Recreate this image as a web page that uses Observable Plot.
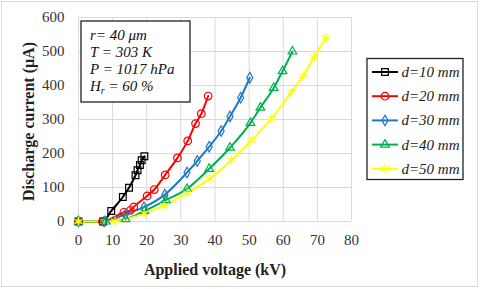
<!DOCTYPE html>
<html><head><meta charset="utf-8">
<script src="https://cdn.jsdelivr.net/npm/d3@7"></script>
<script src="https://cdn.jsdelivr.net/npm/@observablehq/plot@0.6"></script>
<style>
html,body{margin:0;padding:0;background:#fff;}
#chart{position:relative;width:480px;height:289px;}
</style></head>
<body><div id="chart"></div>
<script>
const xTicks = [0,10,20,30,40,50,60,70,80];
const yTicks = [0,100,200,300,400,500,600];
const seriesNames = ["d=10 mm","d=20 mm","d=30 mm","d=40 mm","d=50 mm"];
const seriesColors = ["#000000","#ff0000","#1f78c8","#00b050","#ffff00"];
const seriesSymbols = ["square","circle","diamond","triangle","asterisk"];
const x10 = [0,7.2,9.6,13,14.8,16.7,17.3,18,18.5,19.3];
const y10 = [0,0,31,72,99,136,151,166,180,192];
const x20 = [0,7,13.3,15.2,16.2,20.1,22.2,25.4,29,32,34.3,36,38];
const y20 = [0,0,27,33,43,75,94,137,187,237,288,317,369];
const x30 = [0,7.5,13.8,19.2,25.3,31.8,34.8,38.3,41.8,44.4,47.5,50.2];
const y30 = [0,0,22,42,79,144,178,220,266,309,364,423];
const x40 = [0,8,13.8,19.3,25.6,31.8,38.3,44.4,50.4,53.3,57.2,59.8,62.7];
const y40 = [0,0,7,31,63,96,155,217,290,335,393,442,500];
const x50 = [0,10.7,19.2,25,31.9,38.5,44.8,50.6,56.6,62.4,65.8,69,72.5];
const y50 = [0,1,24,46,84,126,180,238,303,381,428,483,540];
const infoLines = ["r= 40 μm","T = 303 K","P = 1017 hPa"];

const xs = [x10,x20,x30,x40,x50], ys = [y10,y20,y30,y40,y50];
const data = [];
xs.forEach((arr,i)=>arr.forEach((v,j)=>data.push({s:seriesNames[i],x:v,y:ys[i][j]})));

const font = "'Liberation Serif','Times New Roman',serif";
const symR = [3.8,3.8,3.2,3.2,4.3];
const marks = [
  Plot.gridX(xTicks,{stroke:"#d9d9d9",strokeOpacity:1}),
  Plot.gridY(yTicks,{stroke:"#d9d9d9",strokeOpacity:1}),
  Plot.axisX(xTicks,{tickSize:0,tickPadding:13,label:null,fontSize:15,fill:"#333"}),
  Plot.axisY(yTicks,{tickSize:0,tickPadding:14,label:null,fontSize:15,fill:"#333"}),
  Plot.text(["Applied voltage (kV)"],{frameAnchor:"bottom",textAnchor:"middle",lineAnchor:"middle",dy:48,fontWeight:"bold",fontSize:16,fill:"#222"}),
  Plot.text(["Discharge current (μA)"],{frameAnchor:"left",textAnchor:"middle",lineAnchor:"middle",dx:-50,dy:2,rotate:-90,fontWeight:"bold",fontSize:16,fill:"#222"})
];
seriesNames.forEach((n,i)=>{
  const d = data.filter(e=>e.s===n);
  marks.push(Plot.line(d,{x:"x",y:"y",stroke:seriesColors[i],strokeWidth:2,curve:"monotone-x"}));
});
seriesNames.forEach((n,i)=>{
  const d = data.filter(e=>e.s===n);
  marks.push(Plot.dot(d,{x:"x",y:"y",stroke:seriesColors[i],fill:"none",symbol:()=>seriesSymbols[i],r:symR[i],strokeWidth:1.2}));
});

const svg = Plot.plot({
  width:480,height:289,marginLeft:78,marginRight:129,marginTop:17,marginBottom:68,
  x:{domain:[0,80]},y:{domain:[0,600]},
  style:{fontFamily:font,fontSize:"15px",background:"#fff"},
  marks
});
document.getElementById("chart").appendChild(svg);

const g = d3.select(svg);
g.insert("rect",":first-child").attr("x",1.5).attr("y",1.5).attr("width",476).attr("height",285)
 .attr("fill","none").attr("stroke","#d9d9d9");

// info box
const ib = g.append("g").attr("font-family",font).attr("font-style","italic").attr("font-size",15).attr("fill","#111").attr("text-anchor","start");
ib.append("rect").attr("x",81).attr("y",21).attr("width",109).attr("height",81).attr("fill","#fff").attr("stroke","#222").attr("stroke-width",1.3);
infoLines.forEach((t,i)=>ib.append("text").attr("x",90).attr("y",40+i*17).attr("text-anchor","start").text(t));
const ht = ib.append("text").attr("x",90).attr("y",91).attr("text-anchor","start");
ht.append("tspan").text("H");
ht.append("tspan").attr("font-size",10).attr("dy",3).text("r");
ht.append("tspan").attr("dy",-3).text(" = 60 %");

// legend
const lg = g.append("g").attr("font-family",font).attr("font-style","italic").attr("font-size",15).attr("fill","#222").attr("text-anchor","start");
lg.append("rect").attr("x",367).attr("y",58.5).attr("width",96).attr("height",121).attr("fill","#fff").attr("stroke","#222").attr("stroke-width",1.3);
const symMap = {square:d3.symbolSquare,circle:d3.symbolCircle,diamond:d3.symbolDiamond,triangle:d3.symbolTriangle,asterisk:d3.symbolAsterisk};
seriesNames.forEach((n,i)=>{
  const y = 72+i*24.2;
  lg.append("line").attr("x1",372).attr("x2",398).attr("y1",y).attr("y2",y).attr("stroke",seriesColors[i]).attr("stroke-width",2);
  const r = symR[i];
  lg.append("path").attr("transform",`translate(385,${y})`).attr("d",d3.symbol(symMap[seriesSymbols[i]],r*r*Math.PI)())
    .attr("fill","none").attr("stroke",seriesColors[i]).attr("stroke-width",1.2);
  lg.append("text").attr("x",401.5).attr("y",y+5).attr("text-anchor","start").text(n);
});
</script></body></html>
